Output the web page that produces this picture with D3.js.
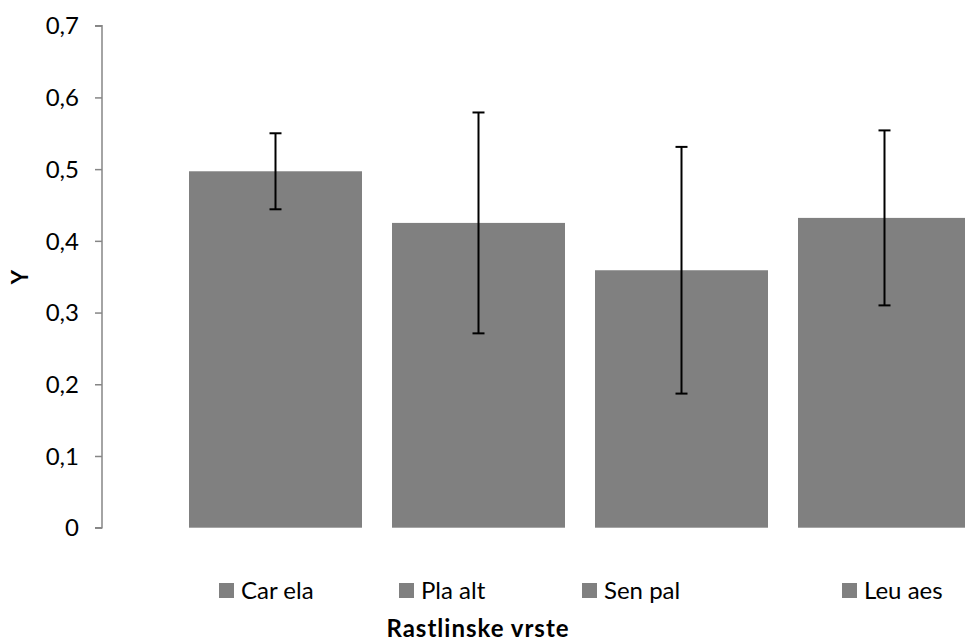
<!DOCTYPE html>
<html>
<head>
<meta charset="utf-8">
<script src="https://cdn.jsdelivr.net/npm/d3@7"></script>
<style>
html,body{margin:0;padding:0;background:#fff;}
svg{display:block;font-family:Lato,"Open Sans",sans-serif;}
</style>
</head>
<body>
<svg id="chart" width="965" height="643"></svg>
<script>
const categories = ["Car ela", "Pla alt", "Sen pal", "Leu aes"];
const means = [0.497, 0.425, 0.359, 0.432];
const errors = [0.053, 0.154, 0.172, 0.122];
const yTicks = [0, 0.1, 0.2, 0.3, 0.4, 0.5, 0.6, 0.7];
const yTickLabels = ["0", "0,1", "0,2", "0,3", "0,4", "0,5", "0,6", "0,7"];
const xTitle = "Rastlinske vrste";
const yTitle = "Y";

const W = 965, H = 643;
const svg = d3.select("#chart");
const barColor = "#808080";

const x = d3.scaleBand().domain(categories).range([174, 986])
  .paddingInner(30/203).paddingOuter(15/203);
const y = d3.scaleLinear().domain([0, 0.7]).range([527.7, 25.7]);

// y axis
const yAxis = d3.axisLeft(y).tickValues(yTicks)
  .tickFormat((d, i) => yTickLabels[i]).tickSize(7).tickPadding(16);
const gy = svg.append("g").attr("transform", "translate(102,0)").call(yAxis);
gy.select(".domain").attr("stroke", "#868686").attr("stroke-width", 1.5)
  .attr("d", `M-7,${y(0.7)}H0V${y(0)}H-7`);
gy.selectAll(".tick line").attr("stroke", "#868686").attr("stroke-width", 1.5);
gy.selectAll(".tick text").attr("fill", "#000").style("font-size", "24px")
  .style("font-family", "Lato, sans-serif").attr("dy", "0.34em");

// bars
svg.append("g").selectAll("rect").data(categories).join("rect")
  .attr("x", d => x(d)).attr("width", x.bandwidth())
  .attr("y", (d, i) => y(means[i]))
  .attr("height", (d, i) => y(0) - y(means[i]))
  .attr("fill", barColor);

// error bars
const eg = svg.append("g").attr("stroke", "#000").attr("stroke-width", 2);
categories.forEach((c, i) => {
  const cx = x(c) + x.bandwidth() / 2;
  const hi = y(means[i] + errors[i]), lo = y(means[i] - errors[i]);
  eg.append("line").attr("x1", cx).attr("x2", cx).attr("y1", hi).attr("y2", lo);
  eg.append("line").attr("x1", cx - 6).attr("x2", cx + 6).attr("y1", hi).attr("y2", hi);
  eg.append("line").attr("x1", cx - 6).attr("x2", cx + 6).attr("y1", lo).attr("y2", lo);
});

// legend
const legendX = [219, 399, 582, 842];
const lg = svg.append("g");
categories.forEach((c, i) => {
  lg.append("rect").attr("x", legendX[i]).attr("y", 583).attr("width", 15).attr("height", 15)
    .attr("fill", barColor);
  lg.append("text").attr("x", legendX[i] + 22).attr("y", 599)
    .style("font-size", "24px").attr("fill", "#000").text(c);
});

// axis titles
svg.append("text").attr("x", 478).attr("y", 637).attr("text-anchor", "middle")
  .style("font-size", "24px").style("font-weight", "bold").style("letter-spacing", "1px")
  .text(xTitle);
svg.append("text").attr("transform", "translate(28,277) rotate(-90)")
  .attr("text-anchor", "middle").style("font-size", "22px").style("font-weight", "bold")
  .text(yTitle);
</script>
</body>
</html>
